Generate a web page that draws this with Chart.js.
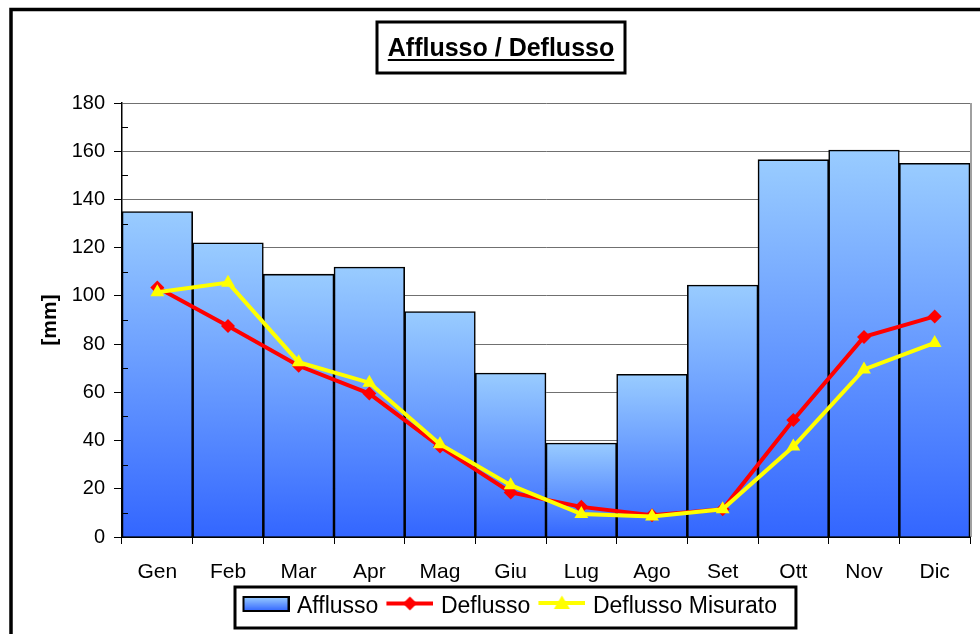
<!DOCTYPE html>
<html>
<head>
<meta charset="utf-8">
<script src="https://cdn.jsdelivr.net/npm/chart.js@4.4.1/dist/chart.umd.min.js"></script>
<style>
  html, body { margin: 0; padding: 0; background: #fff; overflow: hidden; }
  canvas { display: block; }
</style>
</head>
<body>
<canvas id="chart" width="980" height="634"></canvas>
<script>
// Monthly inflow (precipitation) and outflow, in mm
const months = ['Gen', 'Feb', 'Mar', 'Apr', 'Mag', 'Giu', 'Lug', 'Ago', 'Set', 'Ott', 'Nov', 'Dic'];
const afflusso = [135, 122, 109, 112, 93.5, 68, 39, 67.5, 104.5, 156.5, 160.5, 155];
const deflusso = [103.5, 87.5, 71, 59.5, 37.5, 18.5, 12.5, 9, 11.5, 48.5, 83, 91.5];
const deflussoMisurato = [101.5, 105.5, 72.5, 64, 38.5, 21.5, 9.5, 8.5, 11.5, 37.5, 69.5, 80.5];
const seriesNames = ['Afflusso', 'Deflusso', 'Deflusso Misurato'];
const titleText = 'Afflusso / Deflusso';
const axisTitle = '[mm]';
const yMin = 0, yMax = 180, yStep = 20, yMinorStep = 10;

const FONT = "'Liberation Sans', Arial, sans-serif";
const BAR_TOP = '#99CCFF', BAR_BOTTOM = '#3366FF';
const RED = '#FF0000', YELLOW = '#FFFF00';

// Small images used as legend keys (drawn a little above the text midline)
function keyImage(draw) {
  const cv = document.createElement('canvas');
  cv.width = 48; cv.height = 24;
  draw(cv.getContext('2d'));
  return cv;
}
const barKey = keyImage(c => {
  const g = c.createLinearGradient(0, 2, 0, 16);
  g.addColorStop(0, BAR_TOP); g.addColorStop(1, BAR_BOTTOM);
  c.fillStyle = g; c.fillRect(2, 2, 45, 14);
  c.strokeStyle = '#000'; c.lineWidth = 2; c.strokeRect(2, 2, 45, 14);
});
const redKey = keyImage(c => {
  c.strokeStyle = RED; c.lineWidth = 4;
  c.beginPath(); c.moveTo(1, 8.5); c.lineTo(48, 8.5); c.stroke();
  c.fillStyle = RED;
  c.beginPath(); c.moveTo(24.5, 1.5); c.lineTo(31.5, 8.5); c.lineTo(24.5, 15.5); c.lineTo(17.5, 8.5); c.closePath(); c.fill();
});
const yellowKey = keyImage(c => {
  c.strokeStyle = YELLOW; c.lineWidth = 4;
  c.beginPath(); c.moveTo(1, 8); c.lineTo(48, 8); c.stroke();
  c.fillStyle = YELLOW;
  c.beginPath(); c.moveTo(24.5, 0.5); c.lineTo(32.5, 14); c.lineTo(16.5, 14); c.closePath(); c.fill();
});
const keyImages = [barKey, redKey, yellowKey];

// Each bar gets its own vertical gradient, from its top down to zero
function barGradient(ctx) {
  const chart = ctx.chart;
  if (!chart.chartArea || ctx.type !== 'data' || !ctx.parsed) return BAR_BOTTOM;
  const y = chart.scales.y;
  const top = y.getPixelForValue(ctx.parsed.y);
  const base = y.getPixelForValue(0);
  const g = chart.ctx.createLinearGradient(0, top, 0, base);
  g.addColorStop(0, BAR_TOP);
  g.addColorStop(1, BAR_BOTTOM);
  return g;
}

const TITLE_PAD_TOP = 24, TITLE_PAD_BOTTOM = 39, TITLE_SIZE = 25;

const decorations = {
  id: 'decorations',
  beforeDraw(chart) {
    const c = chart.ctx;
    c.save();
    c.fillStyle = '#fff';
    c.fillRect(0, 0, chart.width, chart.height);
    c.restore();
  },
  afterLayout(chart) {
    // place the title and the legend row
    const t = chart.titleBlock;
    const dt = 501 - (t.left + t.right) / 2;
    t.left += dt; t.right += dt;
    const lg = chart.legend;
    const p = lg.options.labels.padding;
    const start = (lg.left + p + lg.right - lg.lineWidths[0]) / 2;
    const dl = 245.5 - start;
    lg.left += dl; lg.right += dl;
  },
  afterDraw(chart) {
    const c = chart.ctx;
    const area = chart.chartArea;
    const y = chart.scales.y;
    c.save();

    // outer frame
    c.strokeStyle = '#000';
    c.lineWidth = 3.5;
    c.strokeRect(11, 9.5, 2000, 2000);

    // right edge of the plot area
    c.strokeStyle = '#808080';
    c.lineWidth = 1.5;
    c.beginPath();
    c.moveTo(area.right + 1, area.top);
    c.lineTo(area.right + 1, area.bottom);
    c.stroke();

    // minor ticks, inside the value axis
    c.strokeStyle = '#000';
    c.lineWidth = 1;
    for (let v = yMin + yMinorStep; v < yMax; v += yStep) {
      const py = Math.round(y.getPixelForValue(v)) + 0.5;
      c.beginPath();
      c.moveTo(area.left, py);
      c.lineTo(area.left + 6, py);
      c.stroke();
    }

    // title box with underlined text
    const t = chart.titleBlock;
    const cx = (t.left + t.right) / 2;
    const cy = t.top + TITLE_PAD_TOP + TITLE_SIZE * 1.2 / 2;
    c.font = 'bold ' + TITLE_SIZE + 'px ' + FONT;
    const tw = c.measureText(titleText).width;
    c.lineWidth = 2;
    c.beginPath();
    c.moveTo(cx - tw / 2, cy + 11);
    c.lineTo(cx + tw / 2, cy + 11);
    c.stroke();
    c.lineWidth = 3;
    c.strokeRect(cx - 124, cy - 27, 248, 51);

    // legend box
    const hb = chart.legend.legendHitBoxes;
    if (hb && hb.length) {
      const first = hb[0], last = hb[hb.length - 1];
      const mid = first.top + first.height / 2;
      const left = first.left - 10.5;
      const right = last.left + last.width + 19;
      c.lineWidth = 3;
      c.strokeRect(left, mid - 20, right - left, 41);
    }
    c.restore();
  }
};

new Chart(document.getElementById('chart'), {
  type: 'bar',
  data: {
    labels: months,
    datasets: [
      {
        type: 'bar',
        label: seriesNames[0],
        data: afflusso,
        backgroundColor: barGradient,
        borderColor: '#000',
        borderWidth: 1.6,
        barPercentage: 1,
        categoryPercentage: 1,
        order: 3
      },
      {
        type: 'line',
        label: seriesNames[1],
        data: deflusso,
        borderColor: RED,
        backgroundColor: RED,
        borderWidth: 4,
        pointStyle: 'rectRot',
        pointRadius: 7,
        pointBorderWidth: 0,
        pointBackgroundColor: RED,
        tension: 0,
        order: 2
      },
      {
        type: 'line',
        label: seriesNames[2],
        data: deflussoMisurato,
        borderColor: YELLOW,
        backgroundColor: YELLOW,
        borderWidth: 4,
        pointStyle: 'triangle',
        pointRadius: 8,
        pointBorderWidth: 0,
        pointBackgroundColor: YELLOW,
        tension: 0,
        order: 1
      }
    ]
  },
  options: {
    responsive: false,
    animation: false,
    events: [],
    layout: { padding: { top: 10, left: 12, right: 10, bottom: 5.5 } },
    plugins: {
      tooltip: { enabled: false },
      title: {
        display: true,
        text: titleText,
        color: '#000',
        font: { family: FONT, size: TITLE_SIZE, weight: 'bold', lineHeight: 1.2 },
        padding: { top: TITLE_PAD_TOP, bottom: TITLE_PAD_BOTTOM }
      },
      legend: {
        display: true,
        position: 'bottom',
        labels: {
          usePointStyle: true,
          pointStyleWidth: 40,
          padding: 11,
          color: '#000',
          font: { family: FONT, size: 23 },
          generateLabels: (chart) => chart.data.datasets.map((ds, i) => ({
            text: ds.label,
            pointStyle: keyImages[i],
            datasetIndex: i,
            hidden: false,
            lineWidth: 0,
            fillStyle: 'transparent',
            strokeStyle: 'transparent',
            fontColor: '#000'
          }))
        }
      }
    },
    scales: {
      x: {
        afterFit: (s) => { s.height = 47.5; },
        grid: { display: true, drawOnChartArea: false, tickLength: 7, tickColor: '#000', color: '#000' },
        border: { display: true, color: '#000', width: 2 },
        ticks: { color: '#000', padding: 15.4, font: { family: FONT, size: 21 } }
      },
      y: {
        min: yMin,
        max: yMax,
        afterFit: (s) => { s.width = 110; },
        ticks: { stepSize: yStep, color: '#000', padding: 9, font: { family: FONT, size: 20 } },
        grid: { color: '#707070', lineWidth: 1, tickLength: 8, tickColor: '#000' },
        border: { display: true, color: '#000', width: 1.5 },
        title: {
          display: true,
          text: axisTitle,
          color: '#000',
          font: { family: FONT, size: 21, weight: 'bold', lineHeight: 1.2 },
          padding: { top: 25.4, bottom: 0 }
        }
      }
    }
  },
  plugins: [decorations]
});
</script>
</body>
</html>
